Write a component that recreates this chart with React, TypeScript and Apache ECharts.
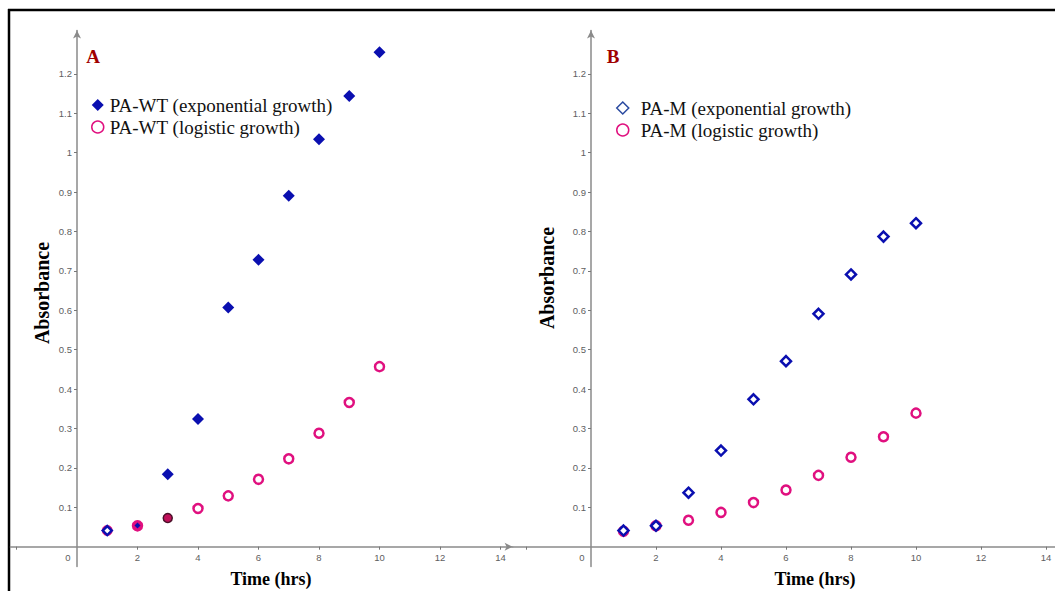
import React, { useEffect, useRef } from "react";
import * as echarts from "echarts";

// ---- data ----
const hours = [1, 2, 3, 4, 5, 6, 7, 8, 9, 10];
const wtExponential = [0.041, 0.054, 0.184, 0.324, 0.607, 0.728, 0.891, 1.034, 1.144, 1.255];
const wtLogistic = [0.041, 0.053, 0.073, 0.097, 0.129, 0.171, 0.223, 0.288, 0.366, 0.457];
const mExponential = [0.041, 0.053, 0.137, 0.244, 0.374, 0.471, 0.591, 0.691, 0.787, 0.821];
const mLogistic = [0.039, 0.053, 0.067, 0.087, 0.112, 0.144, 0.181, 0.227, 0.279, 0.339];

const xTickValues = [-2, 2, 4, 6, 8, 10, 12, 14];
const xLabelValues = [0, 2, 4, 6, 8, 10, 12, 14];
const yLabelValues = [0.1, 0.2, 0.3, 0.4, 0.5, 0.6, 0.7, 0.8, 0.9, 1, 1.1, 1.2];

const seriesNames = {
  wtExp: "PA-WT (exponential growth)",
  wtLog: "PA-WT (logistic growth)",
  mExp: "PA-M (exponential growth)",
  mLog: "PA-M (logistic growth)",
};

const BLUE = "#0a0fb0";
const PINK = "#e0107f";
const AXIS = "#8a8a8a";
const LABEL = "#606060";
const SERIF = "'Liberation Serif', 'Times New Roman', serif";
const SANS = "'Liberation Sans', Arial, sans-serif";

const Y_MIN = -0.05;
const Y_MAX = 1.31;
const ORIGIN_Y = 546.7;
const UNIT_Y = 394;

// panel geometry (pixel layout only)
const panels = [
  { originX: 77, unitX: 30.25, xMin: -2.2, xMax: 14.4, arrowX: true },
  { originX: 591, unitX: 32.5, xMin: -2.4, xMax: 14.3, arrowX: false },
];

const hidden = { show: false };

export default function App() {
  const ref = useRef<HTMLDivElement>(null);

  useEffect(() => {
    if (!ref.current) return;
    const chart = echarts.init(ref.current, null, { renderer: "svg" });

    const grids: any[] = [];
    const xAxes: any[] = [];
    const yAxes: any[] = [];
    const top = ORIGIN_Y - Y_MAX * UNIT_Y;
    const fullH = (Y_MAX - Y_MIN) * UNIT_Y;

    panels.forEach((p) => {
      const left = p.originX + p.xMin * p.unitX;
      const fullW = (p.xMax - p.xMin) * p.unitX;
      const base = grids.length;
      // grid: axis lines crossing at zero
      grids.push({ left, top, width: fullW, height: fullH, outerBoundsMode: "none" });
      xAxes.push({
        type: "value", gridIndex: base, min: p.xMin, max: p.xMax,
        splitLine: hidden, axisTick: hidden, axisLabel: hidden,
        axisLine: {
          onZero: true,
          lineStyle: { color: AXIS, width: 1.5 },
          symbol: p.arrowX ? ["none", "arrow"] : ["none", "none"],
          symbolSize: [6, 8],
        },
      });
      yAxes.push({
        type: "value", gridIndex: base, min: Y_MIN, max: Y_MAX,
        splitLine: hidden, axisTick: hidden, axisLabel: hidden,
        axisLine: {
          onZero: true,
          lineStyle: { color: AXIS, width: 1.5 },
          symbol: ["none", "arrow"],
          symbolSize: [6, 8],
        },
      });
      // grid: x ticks + labels, bottom edge at y = 0 (also used for data)
      grids.push({ left, top, width: fullW, height: Y_MAX * UNIT_Y, outerBoundsMode: "none" });
      xAxes.push({
        type: "value", gridIndex: base + 1, min: p.xMin, max: p.xMax,
        splitLine: hidden, axisLine: hidden,
        axisTick: { show: true, customValues: xTickValues, length: 3, lineStyle: { color: "#777" } },
        axisLabel: {
          customValues: xLabelValues,
          margin: 6,
          color: LABEL,
          fontSize: 9.5,
          fontFamily: SANS,
          formatter: (v: number) => (v === 0 ? "{z|0}" : String(v)),
          rich: { z: { padding: [0, 18, 0, 0], color: LABEL, fontSize: 9.5, fontFamily: SANS } },
        },
      });
      yAxes.push({
        type: "value", gridIndex: base + 1, min: 0, max: Y_MAX,
        show: false, splitLine: hidden,
      });
      // grid: y ticks + labels, left edge at x = 0
      grids.push({ left: p.originX, top, width: p.xMax * p.unitX, height: fullH, outerBoundsMode: "none" });
      xAxes.push({
        type: "value", gridIndex: base + 2, min: 0, max: p.xMax,
        show: false, splitLine: hidden,
      });
      yAxes.push({
        type: "value", gridIndex: base + 2, min: Y_MIN, max: Y_MAX,
        splitLine: hidden, axisLine: hidden,
        axisTick: { show: true, customValues: yLabelValues, length: 3, lineStyle: { color: "#777" } },
        axisLabel: {
          customValues: yLabelValues,
          margin: 5,
          color: LABEL,
          fontSize: 9.5,
          fontFamily: SANS,
          formatter: (v: number) => String(v),
        },
      });
    });

    const wtExpData = hours.map((h, i) => {
      const item: any = { value: [h, wtExponential[i]] };
      if (i === 0) {
        item.itemStyle = { color: "#ffffff", borderColor: BLUE, borderWidth: 2.5 };
        item.symbolSize = 9;
      }
      if (i === 1) item.symbolSize = 6;
      return item;
    });
    const wtLogData = hours.map((h, i) => {
      const item: any = { value: [h, wtLogistic[i]] };
      if (i === 0) item.itemStyle = { color: PINK, borderColor: PINK, borderWidth: 2 };
      if (i === 1) item.itemStyle = { color: PINK, borderColor: PINK, borderWidth: 2.5 };
      if (i === 2) item.itemStyle = { color: "#c0105a", borderColor: "#4a1028", borderWidth: 1.5 };
      return item;
    });
    const mExpData = hours.map((h, i) => [h, mExponential[i]]);
    const mLogData = hours.map((h, i) => {
      const item: any = { value: [h, mLogistic[i]] };
      if (i === 0) item.itemStyle = { color: "#8a10a0", borderColor: PINK, borderWidth: 2.5 };
      return item;
    });

    const common = { type: "scatter", emphasis: { disabled: true }, silent: true };

    const option: any = {
      animation: false,
      grid: grids,
      xAxis: xAxes,
      yAxis: yAxes,
      legend: [
        {
          orient: "vertical",
          left: 91,
          top: 95,
          padding: 0,
          itemWidth: 12,
          itemHeight: 12,
          itemGap: 2,
          selectedMode: false,
          textStyle: { fontFamily: SERIF, fontSize: 19, color: "#111", lineHeight: 20, padding: [0, 0, 0, 1] },
          data: [
            { name: seriesNames.wtExp, icon: "diamond", itemStyle: { color: BLUE, borderWidth: 0, opacity: 1 } },
            { name: seriesNames.wtLog, icon: "circle", itemStyle: { color: "#fff", borderColor: PINK, borderWidth: 1.5, opacity: 1 } },
          ],
        },
        {
          orient: "vertical",
          left: 616,
          top: 98,
          padding: 0,
          itemWidth: 12,
          itemHeight: 12,
          itemGap: 2,
          selectedMode: false,
          textStyle: { fontFamily: SERIF, fontSize: 19, color: "#111", lineHeight: 20, padding: [0, 0, 0, 7] },
          data: [
            { name: seriesNames.mExp, icon: "diamond", itemStyle: { color: "#fff", borderColor: "#2a4aa0", borderWidth: 1.5, opacity: 1 } },
            { name: seriesNames.mLog, icon: "circle", itemStyle: { color: "#fff", borderColor: PINK, borderWidth: 1.5, opacity: 1 } },
          ],
        },
      ],
      series: [
        {
          ...common,
          name: seriesNames.wtLog,
          xAxisIndex: 1,
          yAxisIndex: 1,
          symbol: "circle",
          symbolSize: 9,
          itemStyle: { color: "#ffffff", borderColor: PINK, borderWidth: 2.5, opacity: 1 },
          data: wtLogData,
        },
        {
          ...common,
          name: seriesNames.wtExp,
          xAxisIndex: 1,
          yAxisIndex: 1,
          symbol: "diamond",
          symbolSize: 12,
          itemStyle: { color: BLUE, opacity: 1 },
          data: wtExpData,
        },
        {
          ...common,
          name: seriesNames.mLog,
          xAxisIndex: 4,
          yAxisIndex: 4,
          symbol: "circle",
          symbolSize: 9,
          itemStyle: { color: "#ffffff", borderColor: PINK, borderWidth: 2.5, opacity: 1 },
          data: mLogData,
        },
        {
          ...common,
          name: seriesNames.mExp,
          xAxisIndex: 4,
          yAxisIndex: 4,
          symbol: "diamond",
          symbolSize: 10,
          itemStyle: { color: "#ffffff", borderColor: BLUE, borderWidth: 2.5, opacity: 1 },
          data: mExpData,
        },
      ],
      graphic: [
        { type: "line", shape: { x1: 8, y1: 10, x2: 1055, y2: 10 }, style: { stroke: "#000", lineWidth: 2.5 } },
        { type: "line", shape: { x1: 9, y1: 9, x2: 9, y2: 591 }, style: { stroke: "#000", lineWidth: 2.5 } },
        {
          type: "text", x: 93, y: 56,
          style: { text: "A", fill: "#a00000", font: `bold 19px ${SERIF}`, align: "center", verticalAlign: "middle" },
        },
        {
          type: "text", x: 613, y: 56,
          style: { text: "B", fill: "#a00000", font: `bold 19px ${SERIF}`, align: "center", verticalAlign: "middle" },
        },
        {
          type: "text", x: 271, y: 579,
          style: { text: "Time (hrs)", fill: "#000", font: `bold 18px ${SERIF}`, align: "center", verticalAlign: "middle" },
        },
        {
          type: "text", x: 815, y: 579,
          style: { text: "Time (hrs)", fill: "#000", font: `bold 18px ${SERIF}`, align: "center", verticalAlign: "middle" },
        },
        {
          type: "text", x: 42, y: 293, rotation: Math.PI / 2,
          style: { text: "Absorbance", fill: "#000", font: `bold 20px ${SERIF}`, align: "center", verticalAlign: "middle" },
        },
        {
          type: "text", x: 547, y: 278, rotation: Math.PI / 2,
          style: { text: "Absorbance", fill: "#000", font: `bold 20px ${SERIF}`, align: "center", verticalAlign: "middle" },
        },
      ],
    };

    chart.setOption(option);
    return () => chart.dispose();
  }, []);

  return (
    <div
      ref={ref}
      style={{ position: "absolute", left: 0, top: 0, width: 1055, height: 591, background: "#fff" }}
    />
  );
}
